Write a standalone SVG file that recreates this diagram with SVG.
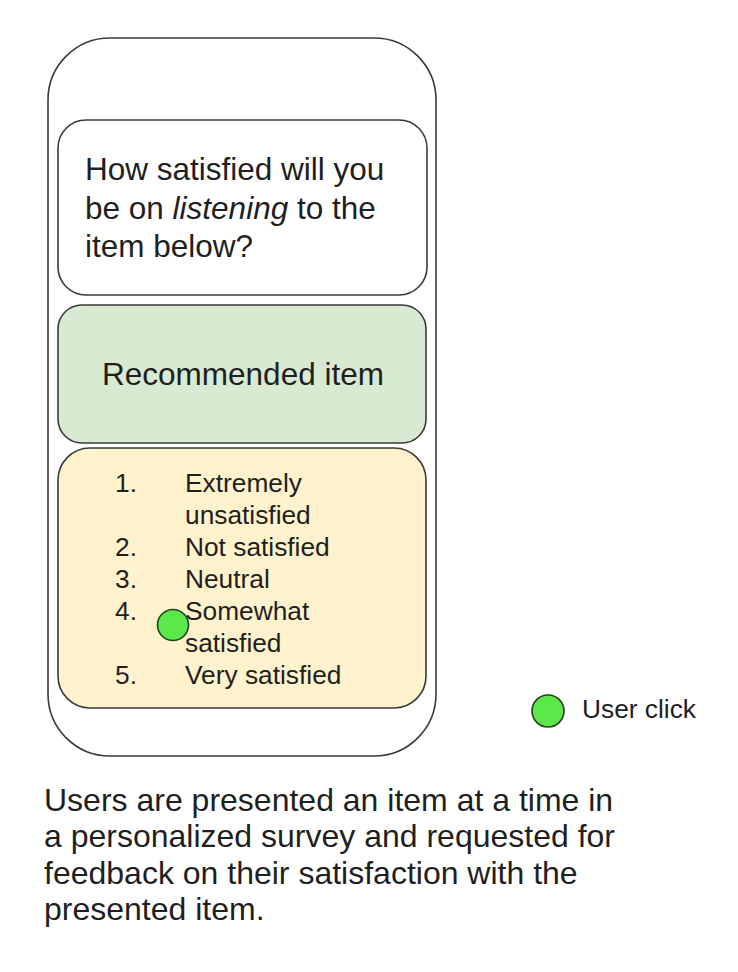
<svg xmlns="http://www.w3.org/2000/svg" width="738" height="972" viewBox="0 0 738 972">
  <style>
    .frame { fill: #ffffff; stroke: #3a3a3a; stroke-width: 1.6; }
    .txt { font-family: "Liberation Sans", Arial, sans-serif; fill: #1f1f1f; }
    .big { font-size: 31.5px; }
    .cap { font-size: 32px; }
    .small { font-size: 26.3px; }
    .click { fill: #5ae84a; stroke: #24401c; stroke-width: 1.6; }
  </style>
  <rect width="738" height="972" fill="#ffffff"/>

  <!-- phone outline -->
  <g id="phone">
    <rect class="frame" x="48" y="38" width="388" height="718" rx="62" ry="62"/>
  </g>

  <!-- survey question card -->
  <g id="question">
    <rect class="frame" x="58" y="120" width="369" height="175" rx="28" ry="28"/>
    <text class="txt big" x="85" y="180">How satisfied will you</text>
    <text class="txt big" x="85" y="219">be on <tspan font-style="italic">listening</tspan> to the</text>
    <text class="txt big" x="85" y="257">item below?</text>
  </g>

  <!-- recommended item card -->
  <g id="recommended-item">
    <rect class="frame" x="58" y="305" width="368" height="138" rx="24" ry="24" style="fill:#d9ead3"/>
    <text class="txt big" x="243" y="385" text-anchor="middle">Recommended item</text>
  </g>

  <!-- rating options card -->
  <g id="rating-options">
    <rect class="frame" x="58" y="448" width="368" height="260" rx="32" ry="32" style="fill:#fff2cc"/>
    <g class="txt small">
      <text x="115" y="492">1.</text>
      <text x="185" y="492">Extremely</text>
      <text x="185" y="524">unsatisfied</text>
      <text x="115" y="556">2.</text>
      <text x="185" y="556">Not satisfied</text>
      <text x="115" y="588">3.</text>
      <text x="185" y="588">Neutral</text>
      <text x="115" y="620">4.</text>
      <text x="185" y="620">Somewhat</text>
      <text x="185" y="652">satisfied</text>
      <text x="115" y="684">5.</text>
      <text x="185" y="684">Very satisfied</text>
    </g>
  </g>

  <!-- click marker on option 4 -->
  <g id="click-marker">
    <circle class="click" cx="173" cy="625" r="15.5"/>
  </g>

  <!-- legend -->
  <g id="legend">
    <circle class="click" cx="548" cy="711" r="16"/>
    <text class="txt small" x="582" y="718">User click</text>
  </g>

  <!-- caption -->
  <g id="caption">
    <text class="txt cap" x="44" y="811">Users are presented an item at a time in</text>
    <text class="txt cap" x="44" y="847">a personalized survey and requested for</text>
    <text class="txt cap" x="44" y="884">feedback on their satisfaction with the</text>
    <text class="txt cap" x="44" y="920">presented item.</text>
  </g>
</svg>
